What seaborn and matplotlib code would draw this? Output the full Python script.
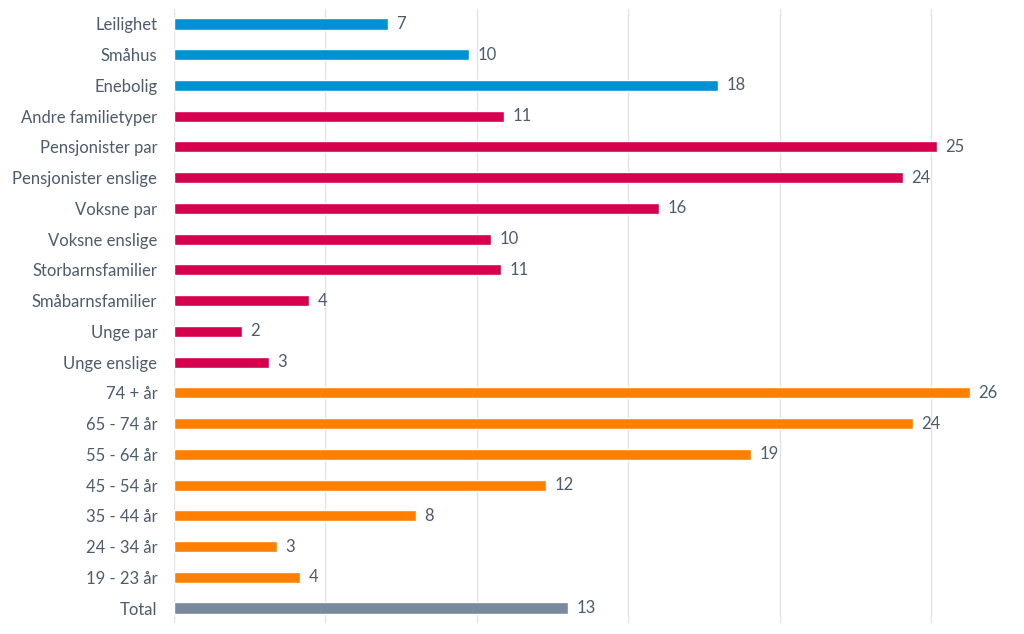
import seaborn as sns
import matplotlib.pyplot as plt
import pandas as pd

# categories top to bottom
labels = ["Leilighet", "Småhus", "Enebolig",
          "Andre familietyper", "Pensjonister par", "Pensjonister enslige",
          "Voksne par", "Voksne enslige", "Storbarnsfamilier",
          "Småbarnsfamilier", "Unge par", "Unge enslige",
          "74 + år", "65 - 74 år", "55 - 64 år", "45 - 54 år",
          "35 - 44 år", "24 - 34 år", "19 - 23 år", "Total"]
values = [7.07, 9.74, 17.97,
          10.9, 25.2, 24.07, 16.02, 10.47, 10.8, 4.46, 2.25, 3.14,
          26.29, 24.4, 19.06, 12.29, 7.99, 3.4, 4.16, 13.01]
groups = ["bolig"] * 3 + ["familie"] * 9 + ["alder"] * 7 + ["total"]
colors = {"bolig": "#0091D5", "familie": "#D6004F",
          "alder": "#FF8000", "total": "#7A8A9E"}

df = pd.DataFrame({"label": labels, "value": values, "group": groups})

sns.set_theme(style="white")
plt.rcParams['font.family'] = ['Lato', 'DejaVu Sans']
text_color = "#4E5B6C"

fig = plt.figure(figsize=(10.24, 6.34), dpi=100)
ax = fig.add_axes([174 / 1024, 1 - 623.4 / 634, 1 - 174 / 1024, (623.4 - 8.6) / 634])

sns.barplot(data=df, x="value", y="label", hue="group", palette=colors,
            dodge=False, width=0.36, legend=False, ax=ax, orient="h",
            saturation=1)

for c in ax.containers:
    ax.bar_label(c, fmt="{:.0f}", padding=6, fontsize=12, color=text_color)

ax.set_xlim(0, 28.07)
ax.set_ylim(19.5, -0.5)
ax.set_xticks([0, 5, 10, 15, 20, 25])
ax.set_xticklabels([])
ax.grid(axis="x", color="#E3E3E3", linewidth=1)
ax.set_axisbelow(True)
for s in ax.spines.values():
    s.set_visible(False)
ax.tick_params(axis="x", length=0)
ax.tick_params(axis="y", length=0, pad=12, labelsize=12, labelcolor=text_color)
ax.set_xlabel("")
ax.set_ylabel("")

fig.savefig("out.png", dpi=100)
